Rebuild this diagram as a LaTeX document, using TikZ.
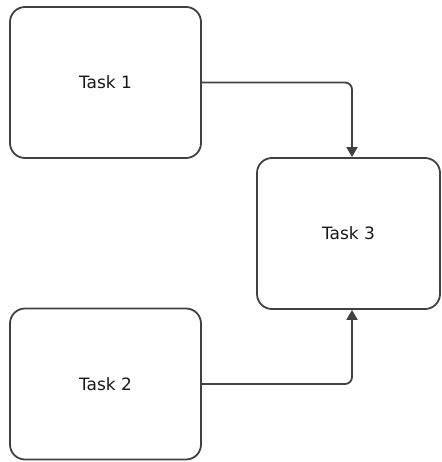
\documentclass[tikz,border=0pt]{standalone}
\usepackage{fontspec}
\setmainfont{DejaVu Sans}
\usetikzlibrary{arrows.meta}
\begin{document}
\begin{tikzpicture}[x=1pt,y=-1pt,
  taskbox/.style={draw=black!75, line width=1.8pt, rounded corners=15pt,
    fill=white, inner sep=0pt, font=\fontsize{17}{20}\selectfont, text=black!90},
  flow/.style={draw=black!75, line width=1.8pt, rounded corners=7pt,
    -{Triangle[width=11pt,length=10pt]}}]
  \useasboundingbox (0,0) rectangle (441,462);
  % task boxes
  \node[taskbox, minimum width=191pt, minimum height=151pt] (t1) at (105.5,82.5) {Task 1};
  \node[taskbox, minimum width=191pt, minimum height=151pt] (t2) at (105.5,384) {Task 2};
  \node[taskbox, minimum width=183pt, minimum height=151pt] (t3) at (348.5,233.5) {Task 3};
  % connectors into the top and bottom of Task 3
  \coordinate (c1) at (352,82.5);
  \coordinate (c2) at (352,384);
  \draw[flow] (t1.east) -- (c1) -- (c1 |- t3.north);
  \draw[flow] (t2.east) -- (c2) -- (c2 |- t3.south);
\end{tikzpicture}
\end{document}
